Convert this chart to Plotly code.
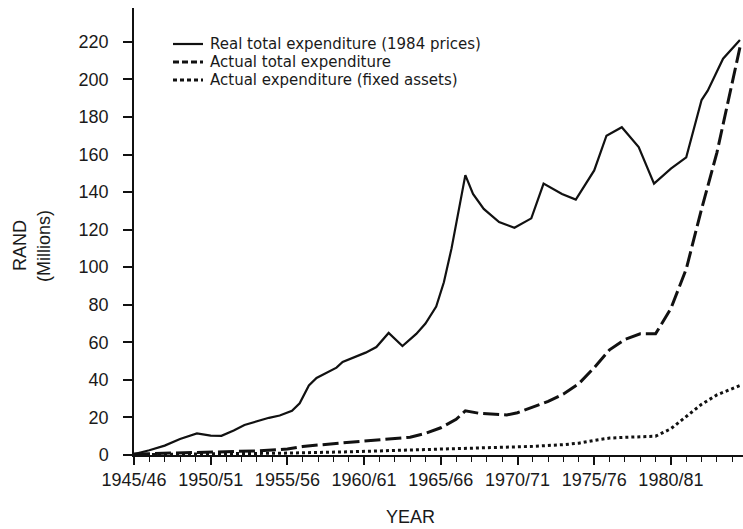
import plotly.graph_objects as go

# Financial years shown on the x axis (label at the start year)
tick_years = [1945, 1950, 1955, 1960, 1965, 1970, 1975, 1980]
tick_labels = ["1945/46", "1950/51", "1955/56", "1960/61",
               "1965/66", "1970/71", "1975/76", "1980/81"]

# Real total expenditure (1984 prices), R millions
real_x = [1945.0, 1946.0, 1947.0, 1948.0, 1949.1, 1950.0, 1950.7, 1951.5, 1952.2, 1953.0,
          1953.8, 1954.5, 1955.3, 1955.8, 1956.4, 1956.9, 1957.6, 1958.2, 1958.6, 1959.3,
          1960.1, 1960.8, 1961.6, 1962.5, 1963.4, 1964.0, 1964.7, 1965.2, 1965.7, 1966.6,
          1967.1, 1967.8, 1968.8, 1969.8, 1970.9, 1971.7, 1972.9, 1973.8, 1975.0, 1975.8,
          1976.8, 1977.9, 1978.9, 1980.0, 1981.0, 1982.0, 1982.4, 1983.4, 1984.5]
real_y = [0.5, 2.5, 5, 8.5, 11.5, 10.3, 10.2, 13, 16, 18,
          19.8, 21, 23.5, 27.5, 37, 41, 44, 46.5, 49.5, 52,
          54.5, 57.5, 65, 58, 64.5, 70, 79, 92, 110, 149,
          139, 131, 124, 121, 126, 144.5, 139, 136, 151.5, 170,
          174.5, 164, 144.5, 152.5, 158.5, 189, 194, 211, 221]

# Actual total expenditure, R millions
total_x = [1945, 1947, 1949, 1951, 1953, 1955, 1956, 1957, 1958, 1959,
           1960, 1961, 1962, 1963, 1964, 1965, 1966, 1966.6, 1967.5, 1968.5,
           1969.3, 1970, 1971, 1972, 1973, 1974, 1975, 1976, 1977, 1978,
           1979, 1980, 1981, 1982, 1983, 1983.6, 1984.5]
total_y = [0.5, 1, 1.2, 1.6, 2.2, 3.2, 4.5, 5.3, 6, 6.7,
           7.3, 7.9, 8.5, 9.5, 11.5, 14.5, 19, 23.5, 22.2, 21.5,
           21.3, 22.5, 25.5, 28.5, 32.5, 38, 46.5, 56, 61.5, 64.5,
           64.5, 78, 99, 131, 161, 183, 217]

# Actual expenditure on fixed assets, R millions
fixed_x = [1945, 1950, 1955, 1959, 1963, 1967, 1971, 1973, 1974, 1975,
           1976, 1977, 1978, 1979, 1980, 1981, 1982, 1983, 1984.5]
fixed_y = [0.2, 0.5, 1, 1.7, 2.6, 3.6, 4.6, 5.5, 6.3, 7.8,
           9, 9.4, 9.6, 10, 14, 20.5, 27, 32, 37]

series_names = ["Real total expenditure (1984 prices)",
                "Actual total expenditure",
                "Actual expenditure (fixed assets)"]

FONT = "Liberation Sans, Arial, sans-serif"
KEY_FONT = "DejaVu Sans, Liberation Sans, sans-serif"
INK = "#111111"

# Plot-area geometry in pixels (used to place the key and axis titles)
W, H = 743, 529
ML, MR, MT, MB = 134, 0, 8, 74
PW, PH = W - ML - MR, H - MT - MB


def px_x(px):
    return (px - ML) / PW


def px_y(py):
    return (H - MB - py) / PH


line_styles = [dict(color=INK, width=2.2),
               dict(color=INK, width=3, dash="16px,5px"),
               dict(color=INK, width=3, dash="3px,3px")]

fig = go.Figure()
for xs, ys, name, style in zip([real_x, total_x, fixed_x],
                               [real_y, total_y, fixed_y],
                               series_names, line_styles):
    fig.add_trace(go.Scatter(x=xs, y=ys, mode="lines", name=name,
                             line=style, showlegend=False))

fig.update_layout(
    width=W, height=H,
    margin=dict(l=ML, r=MR, t=MT, b=MB),
    paper_bgcolor="white", plot_bgcolor="white",
    font=dict(family=FONT, size=18, color="#1a1a1a"),
)

fig.update_xaxes(
    range=[1945, 1984.7],
    tickvals=tick_years, ticktext=tick_labels,
    ticks="outside", ticklen=8, tickwidth=1.5, tickcolor=INK,
    minor=dict(dtick=1, tick0=1945, ticks="outside", ticklen=5,
               tickwidth=1.2, tickcolor=INK),
    showline=True, linecolor=INK, linewidth=1.5,
    showgrid=False, zeroline=False,
    tickfont=dict(size=18),
)
fig.update_yaxes(
    range=[0, 238],
    tickvals=list(range(0, 221, 20)),
    ticks="outside", ticklen=9, tickwidth=1.5, tickcolor=INK,
    showline=True, linecolor=INK, linewidth=1.5,
    showgrid=False, zeroline=False,
    tickfont=dict(size=18), ticklabelstandoff=11,
)

# Key: a short sample of each line style followed by its label
key_rows = [44, 62, 80]
key_x0, key_x1, key_text_x = 173, 203, 209
sample_dash = [None, "6px,3px", "4px,3px"]
for row, name, style, dash in zip(key_rows, series_names, line_styles, sample_dash):
    seg = dict(color=style["color"], width=style["width"])
    if dash:
        seg["dash"] = dash
    fig.add_shape(type="line", xref="paper", yref="paper",
                  x0=px_x(key_x0), x1=px_x(key_x1), y0=px_y(row), y1=px_y(row),
                  line=seg)
    fig.add_annotation(text=name, xref="paper", yref="paper",
                       x=px_x(key_text_x), y=px_y(row), xanchor="left", yanchor="middle",
                       showarrow=False, borderpad=0,
                       font=dict(family=KEY_FONT, size=15))

# Axis titles
fig.add_annotation(text="YEAR", xref="paper", yref="paper",
                   x=px_x(410), y=px_y(517), xanchor="center", yanchor="middle",
                   showarrow=False, font=dict(size=18))
fig.add_annotation(text="RAND", xref="paper", yref="paper",
                   x=px_x(20), y=px_y(246), xanchor="center", yanchor="middle",
                   textangle=-90, showarrow=False, borderpad=0, font=dict(size=18))
fig.add_annotation(text="(Millions)", xref="paper", yref="paper",
                   x=px_x(44), y=px_y(246), xanchor="center", yanchor="middle",
                   textangle=-90, showarrow=False, borderpad=0, font=dict(size=18))

fig.write_html("out.html")
